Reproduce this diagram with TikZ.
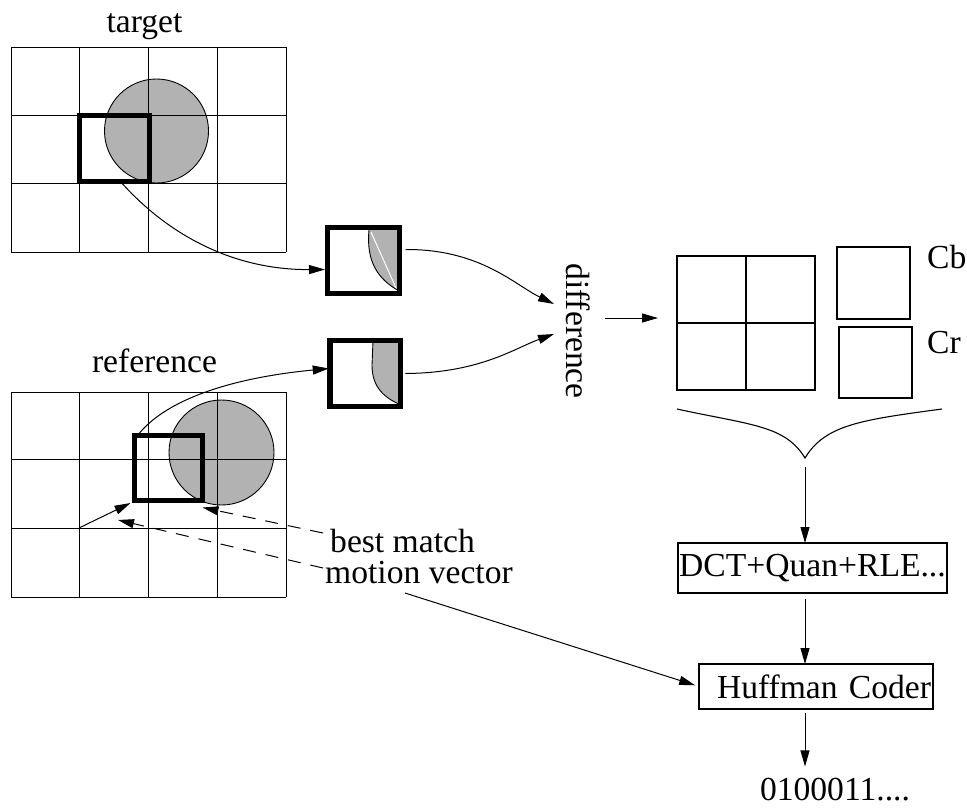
\documentclass[tikz,border=0pt]{standalone}
\usepackage{fontspec}
\setmainfont{Liberation Serif}
\usetikzlibrary{arrows.meta,calc}
\definecolor{greyfill}{gray}{0.70}
\tikzset{
  bigfont/.style={font=\fontsize{33.6pt}{40pt}\selectfont},
  gridln/.style={line width=0.9pt},
  thickbox/.style={draw, line width=5pt, inner sep=0pt, outer sep=0pt},
  plainbox/.style={draw, line width=1.1pt, inner sep=0pt, outer sep=0pt},
  procbox/.style={draw, line width=1.1pt, inner xsep=0pt, inner ysep=2pt, outer sep=0pt, bigfont},
  lbl/.style={inner sep=0pt, bigfont},
  arr/.style={line width=1pt, -{Triangle[length=16pt,width=9pt]}},
  dasharr/.style={arr, dash pattern=on 13pt off 10pt},
  blob/.style={fill=greyfill, draw=black, line width=0.9pt},
}
\begin{document}
\begin{tikzpicture}[x=1pt,y=-1pt]
\useasboundingbox (0,0) rectangle (967,807);

% ---- target frame ----
\draw[blob] (156.5,131) circle[radius=52pt];
\foreach \x in {11,79,148,217,286} \draw[gridln] (\x,47) -- (\x,252);
\foreach \y in {47,115,183,252} \draw[gridln] (11,\y) -- (286,\y);
\node[thickbox, minimum width=70pt, minimum height=66pt] (tsq) at (114,148) {};
\node[lbl, anchor=base] (tlab) at (144.5,32) {target};

% ---- reference frame ----
\draw[blob] (221.5,452.5) circle[radius=52.5pt];
\foreach \x in {11,79,148,217,286} \draw[gridln] (\x,392) -- (\x,597);
\foreach \y in {392,459,528,597} \draw[gridln] (11,\y) -- (286,\y);
\node[thickbox, minimum width=68pt, minimum height=65pt] (rsq) at (168.5,468) {};
\node[lbl, anchor=base] (rlab) at (154.5,372) {reference};

% ---- extracted blocks ----
\fill[greyfill] (369,230) -- (399,230) -- (399,291)
  .. controls (378,279) and (366,262) .. (369,230) -- cycle;
\draw[line width=0.9pt] (399,291) .. controls (378,279) and (366,262) .. (369,230);
\draw[white, line width=1pt] (371,232) -- (396,288);
\node[thickbox, line width=5.5pt, minimum width=72pt, minimum height=66pt] (b1) at (363.5,260.5) {};

\fill[greyfill] (373,341) -- (399,341) -- (401,405)
  .. controls (385,398) and (372,388) .. (372,365) -- cycle;
\draw[line width=0.9pt] (401,405) .. controls (385,398) and (372,388) .. (372,365) -- (373,341);
\node[thickbox, line width=5.5pt, minimum width=70.5pt, minimum height=66pt] (b2) at (365,373.5) {};

\node[lbl, rotate=-90] (diff) at (578,331) {difference};

% ---- Y, Cb, Cr blocks ----
\node[plainbox, minimum width=138pt, minimum height=134pt] (Y) at (746,323) {};
\draw[line width=1.1pt] (Y.north) -- (Y.south);
\draw[line width=1.1pt] (Y.west) -- (Y.east);
\node[plainbox, minimum width=73pt, minimum height=72pt] (cb) at (873.5,283) {};
\node[plainbox, minimum width=73pt, minimum height=71pt] (cr) at (875.5,362.5) {};
\node[lbl, anchor=base west] (cblab) at (927,268) {Cb};
\node[lbl, anchor=base west] (crlab) at (927,353) {Cr};

% ---- brace gathering the blocks ----
\coordinate (braceTip) at (805,458);
\draw[line width=1.1pt] (677,409) .. controls (750,425) and (785,425) .. (braceTip)
  .. controls (825,425) and (860,420) .. (942,409);

% ---- coding chain ----
\node[procbox, minimum width=269pt, minimum height=50pt] (dct) at (812.5,568) {DCT+Quan+RLE...};
\node[procbox, minimum width=234pt, minimum height=45pt, inner xsep=2pt,
      text width=230pt, align=right] (huff) at (816,686.5) {Huffman Coder};
\node[lbl, anchor=base] (bits) at (835,800) {0100011....};

\draw[arr] ([yshift=-9pt]braceTip) -- (braceTip |- dct.north);
\draw[arr, shorten <=6pt] (dct.south -| braceTip) -- (braceTip |- huff.north);
\draw[arr, shorten <=4pt, shorten >=11pt] (huff.south -| braceTip) -- (braceTip |- bits.north);

% ---- annotations ----
\node[lbl, anchor=base west] (bm) at (330,552) {best match};
\node[lbl, anchor=base west] (mv) at (325,583) {motion vector};
\coordinate (bmS) at (323,533);
\coordinate (mvD) at (323,568);
\coordinate (mvS) at (405,593);
\coordinate (gridPt) at (79,528);

% ---- connectors ----
\draw[arr] ([xshift=6pt]tsq.south) .. controls (165,232) and (230,270) .. ([shift={(-2.5pt,-9pt)}]b1.west);
\draw[arr] ([xshift=3pt]rsq.north west) .. controls (165,400) and (230,378) .. ([shift={(-1pt,5pt)}]b2.west);
\draw[arr] ([shift={(6pt,11pt)}]b1.east) .. controls (480,249) and (515,285) .. ([shift={(-24pt,27pt)}]diff.center);
\draw[arr] ([xshift=5pt]b2.east) .. controls (480,373) and (515,348) .. ([shift={(-24pt,-3pt)}]diff.center);
\draw[arr] ([shift={(27pt,13pt)}]diff.center) -- ([xshift=-19pt]Y.west |- 0,318);

\draw[arr] (gridPt) -- ([shift={(-4pt,-2.5pt)}]rsq.south west);
\draw[dasharr] (bmS) -- ([yshift=-7pt]rsq.south east);
\draw[dasharr] (mvD) -- ([shift={(-16.5pt,-19.5pt)}]rsq.south west);
\draw[arr, shorten >=4pt] (mvS) -- (huff.west);
\end{tikzpicture}
\end{document}
